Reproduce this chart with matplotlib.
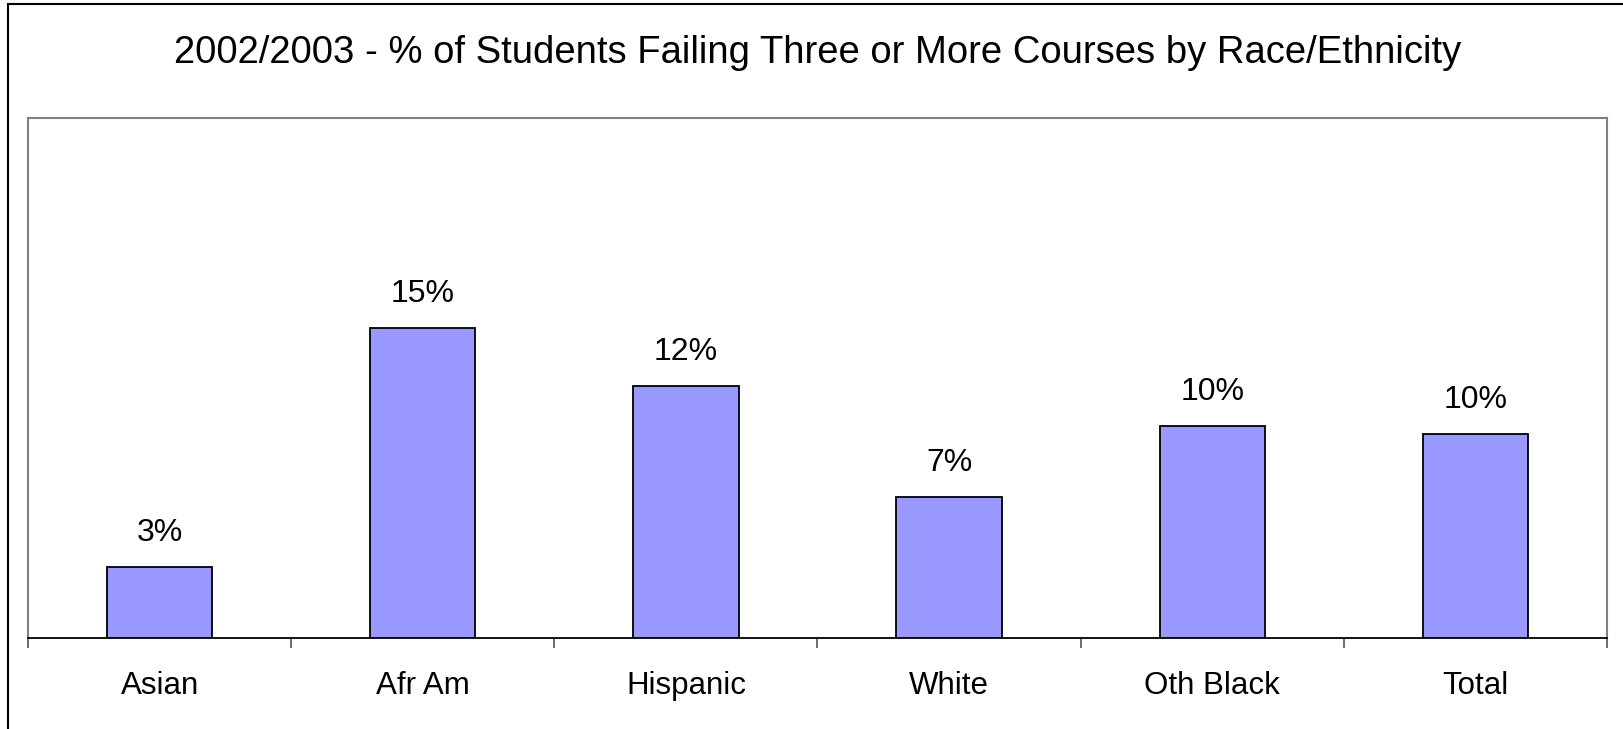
import matplotlib.pyplot as plt
from matplotlib.lines import Line2D
import numpy as np

# data
categories = ["Asian", "Afr Am", "Hispanic", "White", "Oth Black", "Total"]
values = [3.4, 14.9, 12.1, 6.8, 10.2, 9.8]
labels = ["3%", "15%", "12%", "7%", "10%", "10%"]

W, H = 1624, 729
fig = plt.figure(figsize=(W / 100, H / 100), dpi=100)
plt.rcParams['font.family'] = ['Liberation Sans', 'DejaVu Sans']

# plot area in pixels: left 28, right 1607, top 118, bottom 638
ax = fig.add_axes([28 / W, 1 - 638 / H, (1607 - 28) / W, (638 - 118) / H])

x = np.arange(len(categories))
ax.bar(x, values, width=0.4, color="#9999ff", edgecolor="black", linewidth=1.3, zorder=3)
for xi, v, lab in zip(x, values, labels):
    ax.annotate(lab, (xi, v), xytext=(0, 19 * 0.72), textcoords="offset points",
                ha="center", va="bottom", fontsize=23)

ax.set_xlim(-0.5, len(categories) - 0.5)
ax.set_ylim(0, 25)
ax.set_yticks([])
ax.set_xticks(np.arange(len(categories) + 1) - 0.5, minor=False)
ax.set_xticklabels([])
ax.set_xticks(x, minor=True)
ax.set_xticklabels(categories, minor=True, fontsize=22.5)
ax.tick_params(axis="x", which="major", length=7, width=1.3, color="#606060", direction="out")
ax.tick_params(axis="x", which="minor", length=0, pad=24)

for s in ["left", "right", "top"]:
    ax.spines[s].set_color("#808080")
    ax.spines[s].set_linewidth(1.5)
ax.spines["bottom"].set_color("black")
ax.spines["bottom"].set_linewidth(1.3)

fig.text(818 / W, 1 - 53 / H, "2002/2003 - % of Students Failing Three or More Courses by Race/Ethnicity",
         ha="center", va="center", fontsize=27.5)

# outer chart border (top and left visible)
fig.add_artist(Line2D([7.5 / W, 1622 / W], [1 - 4 / H, 1 - 4 / H], color="black", linewidth=1.5))
fig.add_artist(Line2D([7.5 / W, 7.5 / W], [1 - 4 / H, 0], color="black", linewidth=1.5))

fig.savefig("out.png", dpi=100)
